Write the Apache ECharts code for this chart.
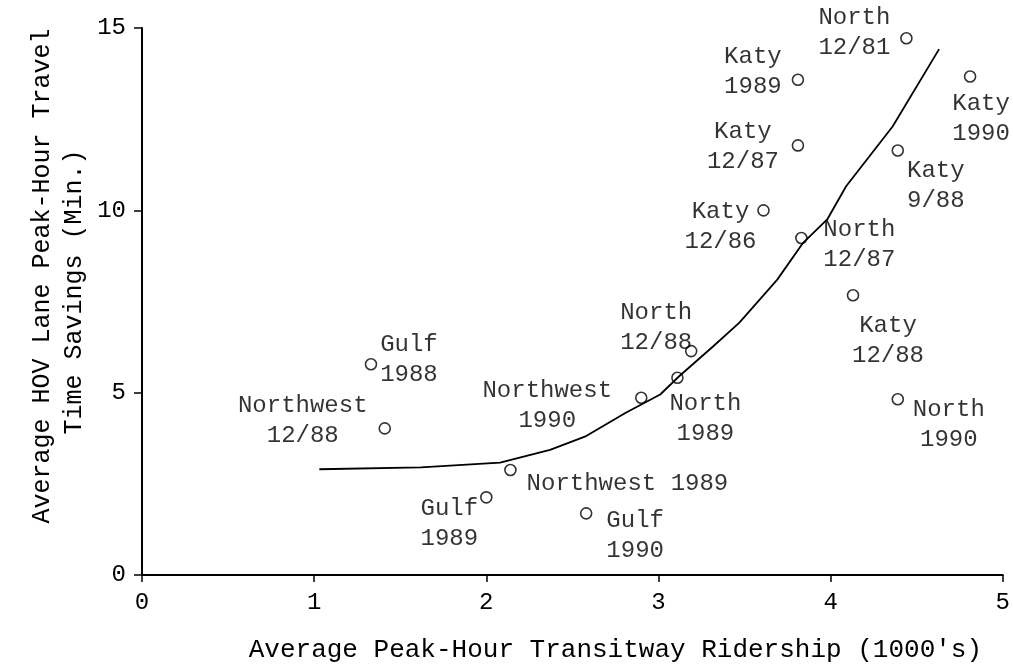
<!DOCTYPE html>
<html>
<head>
<meta charset="utf-8">
<script src="https://cdn.jsdelivr.net/npm/echarts@6/dist/echarts.min.js"></script>
<style>
  html, body { margin: 0; padding: 0; background: #fff; }
  #chart { width: 1013px; height: 668px; }
</style>
</head>
<body>
<div id="chart"></div>
<script>
// ---- data ----
const ridership = [1.33, 1.41, 2.00, 2.14, 2.58, 2.90, 3.11, 3.19, 3.61, 3.83, 3.81, 3.81, 4.44, 4.81, 4.39, 4.13, 4.39];
const savings   = [5.78, 4.02, 2.13, 2.88, 1.69, 4.86, 5.41, 6.14, 10.0, 9.24, 11.78, 13.58, 14.72, 13.67, 11.64, 7.67, 4.82];
const pointLabels = ['Gulf\n1988', 'Northwest\n12/88', 'Gulf\n1989', 'Northwest 1989', 'Gulf\n1990',
  'Northwest\n1990', 'North\n1989', 'North\n12/88', 'Katy\n12/86', 'North\n12/87', 'Katy\n12/87',
  'Katy\n1989', 'North\n12/81', 'Katy\n1990', 'Katy\n9/88', 'Katy\n12/88', 'North\n1990'];
const fitX = [1.03, 1.62, 2.08, 2.37, 2.58, 2.81, 3.01, 3.12, 3.32, 3.47, 3.69, 3.84, 3.98, 4.09, 4.36, 4.63];
const fitY = [2.90, 2.95, 3.08, 3.43, 3.81, 4.45, 4.95, 5.45, 6.28, 6.92, 8.10, 9.11, 9.75, 10.66, 12.30, 14.42];
const xTicks = [0, 5, 1];   // min, max, interval
const yTicks = [0, 15, 5];
const xTitle = "Average Peak-Hour Transitway Ridership (1000's)";
const yTitle1 = 'Average HOV Lane Peak-Hour Travel';
const yTitle2 = 'Time Savings (Min.)';

// ---- label placement (pixel shifts, style only) ----
const labelOffsets = [[38,-5],[-82,-8],[-37,26],[117,14],[49,22],[-94,8],[28,41],[-35,-23],[-43,16],
  [58,7],[-55,1],[-45,-8],[-52,-6],[11,42],[38,35],[35,45],[51,25]];

const FONT = '"Liberation Mono", "DejaVu Sans Mono", monospace';
const FS = 24;
const INK = '#000';

const scatterData = ridership.map((x, i) => ({ value: [x, savings[i]], name: pointLabels[i] }));
const fitData = fitX.map((x, i) => [x, fitY[i]]);

const chart = echarts.init(document.getElementById('chart'), null, { renderer: 'canvas' });
chart.setOption({
  backgroundColor: '#fff',
  animation: false,
  grid: { left: 142, right: 10, top: 28, bottom: 92, containLabel: false },
  xAxis: {
    type: 'value', min: xTicks[0], max: xTicks[1], interval: xTicks[2],
    splitLine: { show: false },
    axisLine: { show: true, onZero: false, lineStyle: { color: INK, width: 2 } },
    axisTick: { show: true, length: 7, lineStyle: { color: INK, width: 1.5 } },
    axisLabel: { color: INK, fontFamily: FONT, fontSize: FS, margin: 16 },
    name: xTitle, nameLocation: 'middle', nameGap: 62,
    nameTextStyle: { color: INK, fontFamily: FONT, fontSize: 26, padding: [0, 0, 0, 86] }
  },
  yAxis: {
    type: 'value', min: yTicks[0], max: yTicks[1], interval: yTicks[2],
    splitLine: { show: false },
    axisLine: { show: true, onZero: false, lineStyle: { color: INK, width: 2 } },
    axisTick: { show: true, length: 8, lineStyle: { color: INK, width: 1.5 } },
    axisLabel: { color: INK, fontFamily: FONT, fontSize: FS, margin: 16 }
  },
  graphic: [
    { type: 'text', x: 42, y: 276, rotation: Math.PI / 2,
      style: { text: yTitle1, fill: INK, font: `25px ${FONT}`, textAlign: 'center', textVerticalAlign: 'middle' } },
    { type: 'text', x: 74, y: 292, rotation: Math.PI / 2,
      style: { text: yTitle2, fill: INK, font: `25px ${FONT}`, textAlign: 'center', textVerticalAlign: 'middle' } }
  ],
  series: [
    {
      type: 'line', data: fitData, showSymbol: false, smooth: false,
      lineStyle: { color: INK, width: 1.8 }, z: 2
    },
    {
      type: 'scatter', data: scatterData, symbol: 'circle', symbolSize: 11,
      itemStyle: { color: 'rgba(0,0,0,0)', borderColor: INK, borderWidth: 1.6 },
      label: {
        show: true, position: 'inside', formatter: p => p.name,
        color: INK, fontFamily: FONT, fontSize: FS, lineHeight: 30,
        align: 'center', verticalAlign: 'middle'
      },
      labelLayout: p => ({ dx: labelOffsets[p.dataIndex][0], dy: labelOffsets[p.dataIndex][1], hideOverlap: false }),
      z: 3
    }
  ]
});
</script>
</body>
</html>
